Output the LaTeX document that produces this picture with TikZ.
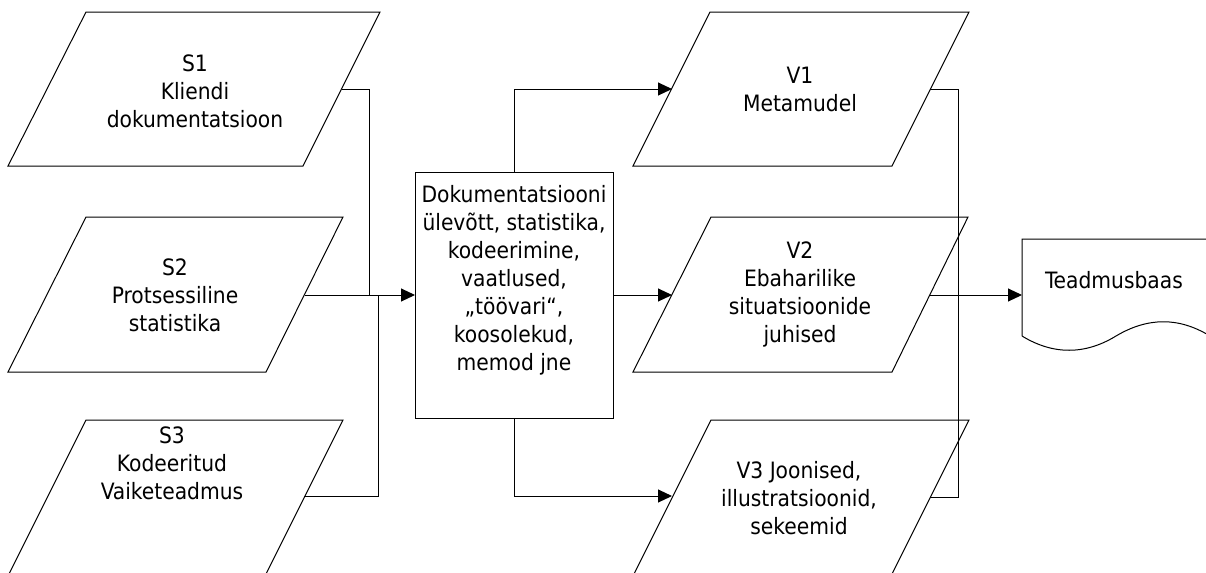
\documentclass[tikz,border=0pt]{standalone}
\usepackage{fontspec}
\setmainfont{DejaVu Sans Condensed}
\usetikzlibrary{arrows.meta}
\begin{document}
\begin{tikzpicture}[x=0.75pt,y=-0.75pt,
  para/.style={draw=black, line width=0.75pt},
  lbl/.style={align=center, inner sep=0pt, font=\fontsize{16.9}{21}\selectfont},
  link/.style={draw=black, line width=0.75pt},
  arr/.style={link, -{Triangle[length=10.5pt,width=9.75pt]}}]
\clip (0,0) rectangle (1206,572);

% input parallelograms
\draw[para] (86,12) -- (380,12) -- (303,166) -- (8,166) -- cycle;
\draw[para] (86,217) -- (343,217) -- (266,372) -- (8,372) -- cycle;
\draw[para] (86,420) -- (343,420) -- (265,576) -- (8,576) -- cycle;
\node[lbl] (s1) at (195,91) {S1\\Kliendi\\dokumentatsioon};
\node[lbl] (s2) at (175,295) {S2\\Protsessiline\\statistika};
\node[lbl] (s3) at (172,463) {S3\\Kodeeritud\\Vaiketeadmus};

% processing box
\node[draw=black, line width=0.75pt, inner sep=0pt, outer sep=0pt,
      minimum width=148.5pt, minimum height=184.5pt] (proc) at (514,295) {};
\node[lbl] (proctext) at (514,280)
  {Dokumentatsiooni\\ülevõtt, statistika,\\kodeerimine,\\vaatlused,\\„töövari“,\\koosolekud,\\memod jne};

% output parallelograms
\draw[para] (710,12) -- (969,12) -- (892,166) -- (633,166) -- cycle;
\draw[para] (711,217) -- (968,217) -- (892,372) -- (633,372) -- cycle;
\draw[para] (711,420) -- (969,420) -- (891,576) -- (633,576) -- cycle;
\node[lbl] (v1) at (800,89) {V1\\Metamudel};
\node[lbl] (v2) at (800,294) {V2\\Ebaharilike\\situatsioonide\\juhised};
\node[lbl] (v3) at (799,498) {V3 Joonised,\\illustratsioonid,\\sekeemid};

% knowledge base document
\draw[para] (1022,336) -- (1022,239) -- (1210,239) -- (1210,336)
  .. controls (1179,317) and (1148,317) .. (1116,336)
  .. controls (1085,355) and (1053,355) .. (1022,336);
\node[lbl] (kb) at (1114,280) {Teadmusbaas};

% connection points
\coordinate (s1out) at (342,89);
\coordinate (s2out) at (305,295);
\coordinate (s3out) at (304,496);
\coordinate (busA) at (369,295);
\coordinate (busB) at (378,295);
\coordinate (v1in) at (672,89);
\coordinate (v2in) at (672,295);
\coordinate (v3in) at (672,496);
\coordinate (v1out) at (930,89);
\coordinate (v2out) at (930,295);
\coordinate (v3out) at (930,497);
\coordinate (busR) at (958,295);
\coordinate (kbin) at (1022,295);

% connectors
\draw[link] (s1out) -| (busA);
\draw[link] (s3out) -| (busB);
\draw[arr] (s2out) -- (proc.west);
\draw[arr] (proc.north) |- (v1in);
\draw[arr] (proc.east) -- (v2in);
\draw[arr] (proc.south) |- (v3in);
\draw[link] (v1out) -| (busR) |- (v3out);
\draw[arr] (v2out) -- (kbin);
\end{tikzpicture}
\end{document}
